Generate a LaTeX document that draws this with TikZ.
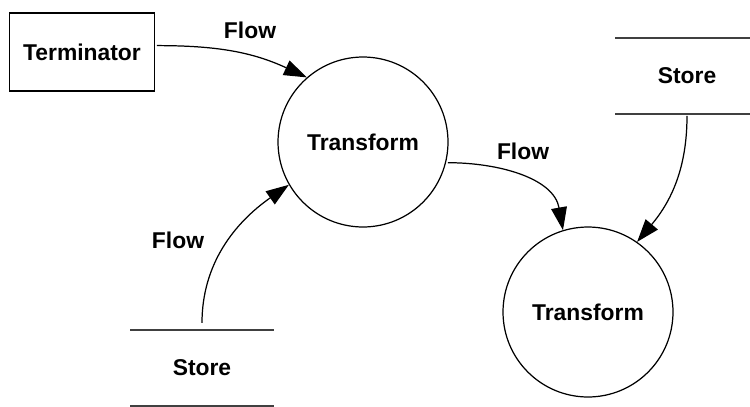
\documentclass[tikz,border=0pt]{standalone}
\usepackage{fontspec}
\setmainfont{Liberation Sans}
\usetikzlibrary{arrows.meta}
\newcommand{\storelines}[1]
{   \draw[storeline] (#1.north west) -- (#1.north east);
    \draw[storeline] (#1.south west) -- (#1.south east);
}
\begin{document}
\begin{tikzpicture}[x=0.02cm,y=-0.02cm,
  every node/.style={font=\fontsize{13}{15}\selectfont\bfseries},
  term/.style={draw,line width=0.8pt,minimum width=2.9cm,minimum height=1.56cm},
  proc/.style={draw,circle,line width=0.7pt,minimum size=3.4cm},
  store/.style={minimum width=2.85cm,minimum height=1.51cm},
  storeline/.style={line width=0.8pt,black!75},
  flow/.style={-{Triangle[length=13pt,width=9pt]},line width=0.7pt,shorten <=1pt}]

 \useasboundingbox (0,0) rectangle (750,406);

 \node[term]  (term) at (82,52)    {Terminator};
 \node[proc]  (tf1)  at (363,142)  {Transform};
 \node[proc]  (tf2)  at (588,312)  {Transform};
 \node[store] (st1)  at (687,76)   {Store};
 \node[store] (st2)  at (202,368)  {Store};
 \storelines{st1}
 \storelines{st2}

   \draw[flow] (term.5) to[out=0,in=155] (tf1.131);
   \draw[flow,shorten <=4pt] (st2.north) to[out=90,in=215] (tf1.210);
   \draw[flow] (tf1.-14) to[out=0,in=100] (tf2.107);
   \draw[flow] (st1.south) to[out=-90,in=50] (tf2.55);

   \node (f1) at (250,30)  {Flow};
   \node (f2) at (523,151) {Flow};
   \node (f3) at (178,240) {Flow};

 \end{tikzpicture}
\end{document}
